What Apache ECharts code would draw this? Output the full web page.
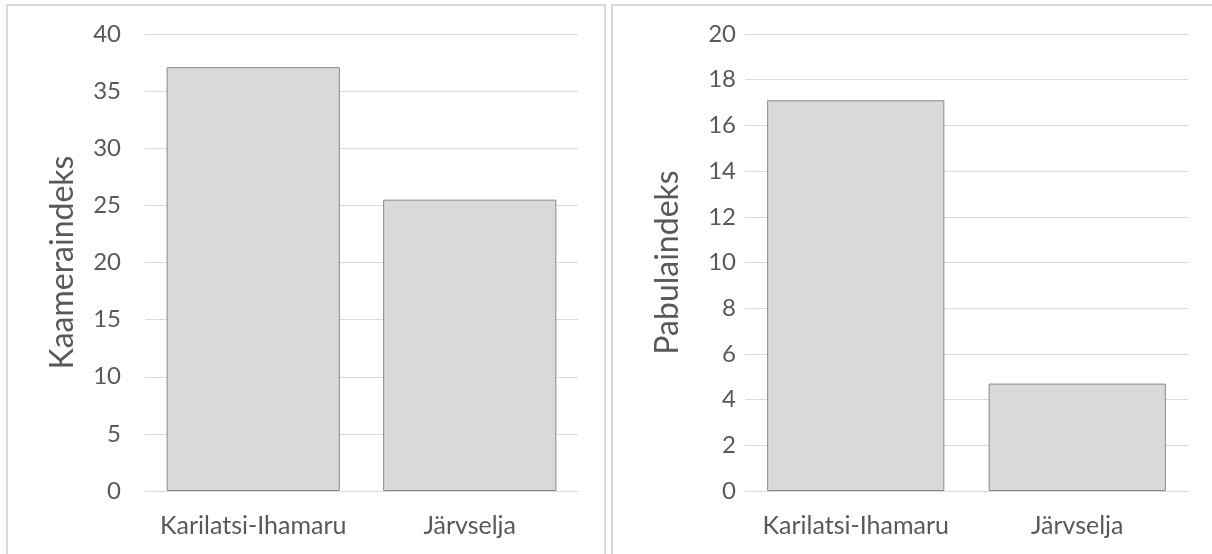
<!DOCTYPE html>
<html>
<head>
<meta charset="utf-8">
<script src="https://cdn.jsdelivr.net/npm/echarts@6/dist/echarts.min.js"></script>
<style>
  html, body { margin: 0; padding: 0; background: #ffffff; }
  #chart { width: 1212px; height: 554px; }
</style>
</head>
<body>
<div id="chart"></div>
<script>
// Sites and index values for the two panels
const sites = ['Karilatsi-Ihamaru', 'Järvselja'];
const kaameraValues = [37.1, 25.5];
const pabulaValues = [17.1, 4.7];

const leftTitle = 'Kaameraindeks';
const rightTitle = 'Pabulaindeks';

const FONT = 'Lato, "Open Sans", sans-serif';
const TEXT = '#595959';
const GRID_LINE = '#d9d9d9';

const chart = echarts.init(document.getElementById('chart'), null, { renderer: 'canvas' });

function xAxisFor(gridIndex) {
  return {
    type: 'category',
    gridIndex: gridIndex,
    data: sites,
    axisLine: { show: true, lineStyle: { color: GRID_LINE, width: 1 } },
    axisTick: { show: false },
    axisLabel: {
      interval: 0,
      hideOverlap: false,
      color: TEXT,
      fontSize: 25,
      fontFamily: FONT,
      margin: 22
    }
  };
}

function yAxisFor(gridIndex, max, interval, name, labelMargin, nameGap) {
  return {
    type: 'value',
    gridIndex: gridIndex,
    min: 0,
    max: max,
    interval: interval,
    name: name,
    nameLocation: 'middle',
    nameGap: nameGap,
    nameTextStyle: { color: TEXT, fontSize: 32, fontFamily: FONT },
    axisLine: { show: false },
    axisTick: { show: false },
    axisLabel: { color: TEXT, fontSize: 24, fontFamily: FONT, margin: labelMargin },
    splitLine: { show: true, lineStyle: { color: GRID_LINE, width: 1 } }
  };
}

const barStyle = {
  color: '#d9d9d9',
  borderColor: '#898989',
  borderWidth: 1
};

chart.setOption({
  animation: false,
  backgroundColor: '#ffffff',
  graphic: [
    {
      type: 'rect',
      shape: { x: 7, y: 5, width: 598, height: 560 },
      style: { fill: 'none', stroke: '#d9d9d9', lineWidth: 2 },
      silent: true
    },
    {
      type: 'rect',
      shape: { x: 612, y: 5, width: 620, height: 560 },
      style: { fill: 'none', stroke: '#d9d9d9', lineWidth: 2 },
      silent: true
    }
  ],
  grid: [
    { left: 145, right: 634, top: 34, bottom: 63 },
    { left: 745, right: 24, top: 34, bottom: 63 }
  ],
  xAxis: [xAxisFor(0), xAxisFor(1)],
  yAxis: [
    yAxisFor(0, 40, 5, leftTitle, 24, 66),
    yAxisFor(1, 20, 2, rightTitle, 9, 61)
  ],
  series: [
    {
      type: 'bar',
      xAxisIndex: 0,
      yAxisIndex: 0,
      data: kaameraValues,
      barCategoryGap: '20%',
      itemStyle: barStyle
    },
    {
      type: 'bar',
      xAxisIndex: 1,
      yAxisIndex: 1,
      data: pabulaValues,
      barCategoryGap: '20%',
      itemStyle: barStyle
    }
  ]
});
</script>
</body>
</html>
